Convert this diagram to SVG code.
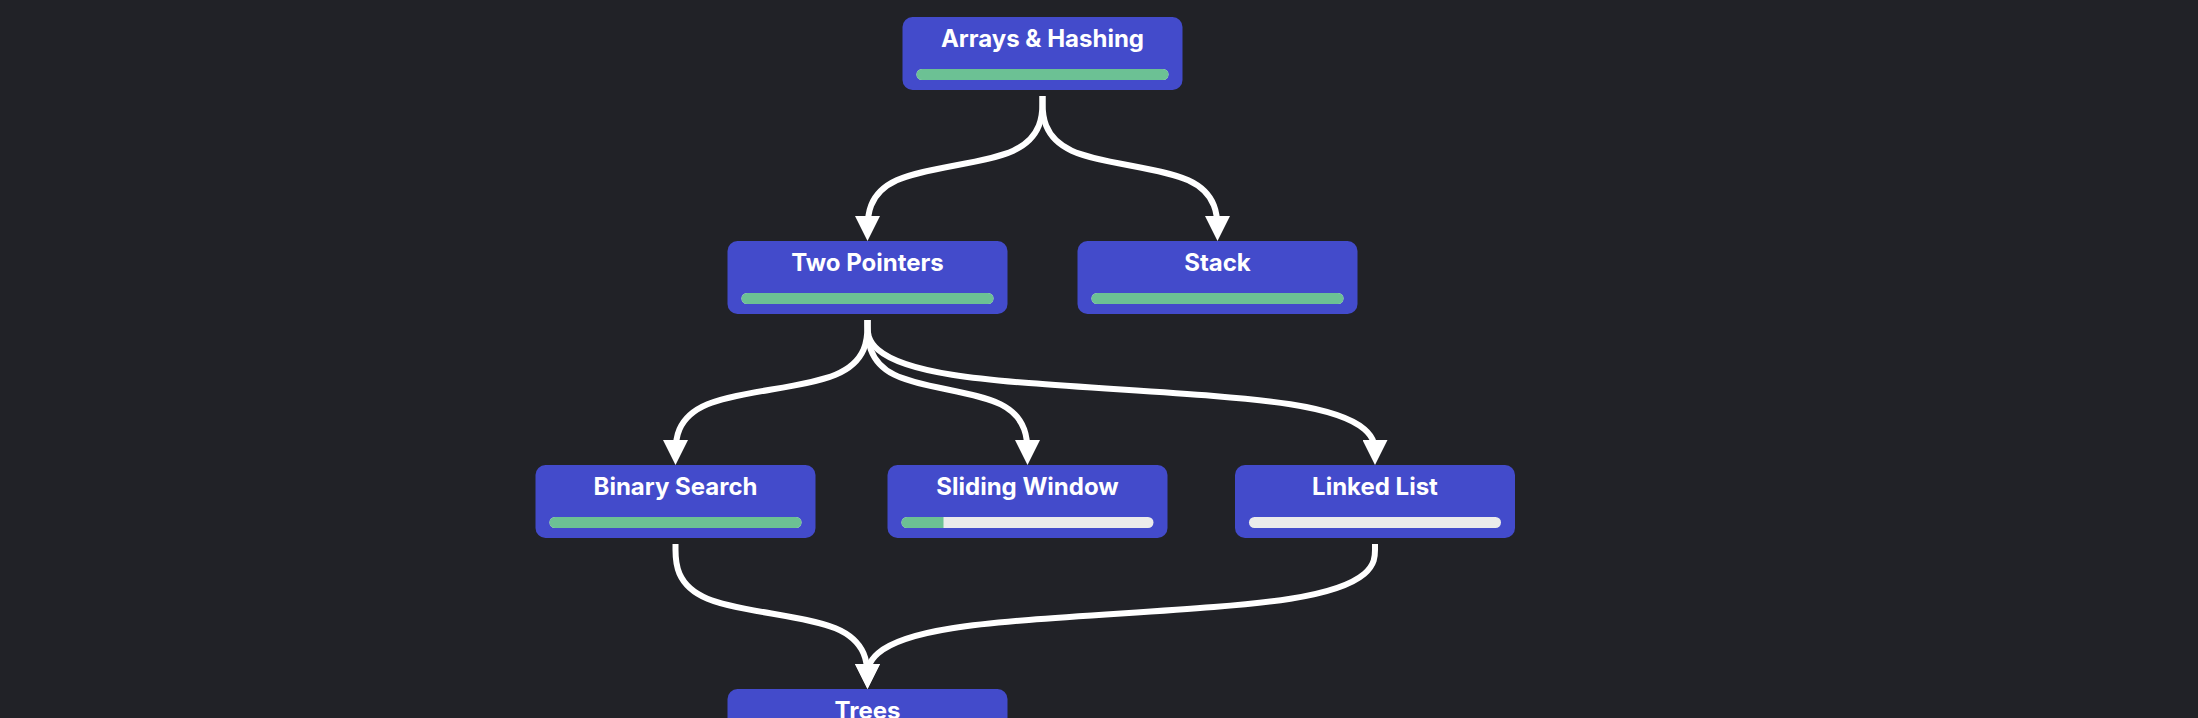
<svg xmlns="http://www.w3.org/2000/svg" width="2198" height="718" viewBox="0 0 2198 718">
<defs>
<style>
.node rect.box{fill:#434bcb;}
.title{font-family:Inter,"Noto Sans","Liberation Sans",sans-serif;font-size:24px;font-weight:700;fill:#ffffff;text-anchor:middle;}
.track{fill:#ebebeb;}
.fill{fill:#6cc194;}
.edge{fill:none;stroke:#ffffff;stroke-width:6;}
</style>
<marker id="arrow" viewBox="0 0 25 25" markerUnits="userSpaceOnUse" markerWidth="25" markerHeight="25" refX="13.17" refY="12.5" orient="auto">
<path d="M0,0 L25,12.5 L0,25 Z" fill="#ffffff"/>
</marker>
</defs>
<rect x="0" y="0" width="2198" height="718" fill="#212227"/>
<g id="connectors">
<path class="edge" marker-end="url(#arrow)" d="M1042.5,96 L1042.5,101.83 C1042.5,113.67 1042.5,137.33 1013.33,150.67 C984.17,164 925.83,167 896.67,180.33 C867.5,193.67 867.5,217.33 867.5,229.17"/>
<path class="edge" marker-end="url(#arrow)" d="M1042.5,96 L1042.5,101.83 C1042.5,113.67 1042.5,137.33 1071.67,150.67 C1100.83,164 1159.17,167 1188.33,180.33 C1217.5,193.67 1217.5,217.33 1217.5,229.17"/>
<path class="edge" marker-end="url(#arrow)" d="M867.5,320 L867.5,325.83 C867.5,337.67 867.5,361.33 835.5,374.67 C803.5,388 739.5,391 707.5,404.33 C675.5,417.67 675.5,441.33 675.5,453.17"/>
<path class="edge" marker-end="url(#arrow)" d="M867.5,320 L867.5,325.83 C867.5,337.67 867.5,361.33 894.17,374.67 C920.83,388 974.17,391 1000.83,404.33 C1027.5,417.67 1027.5,441.33 1027.5,453.17"/>
<path class="edge" marker-end="url(#arrow)" d="M867.5,320 L867.5,325.83 C867.5,337.67 867.5,361.33 952.08,374.67 C1036.67,388 1205.83,391 1290.42,404.33 C1375,417.67 1375,441.33 1375,453.17"/>
<path class="edge" marker-end="url(#arrow)" d="M675.5,544 L675.5,549.83 C675.5,561.67 675.5,585.33 707.5,598.67 C739.5,612 803.5,615 835.5,628.33 C867.5,641.67 867.5,665.33 867.5,677.17"/>
<path class="edge" marker-end="url(#arrow)" d="M1375,544 L1375,549.83 C1375,561.67 1375,585.33 1290.42,598.67 C1205.83,612 1036.67,615 952.08,628.33 C867.5,641.67 867.5,665.33 867.5,677.17"/>
</g>
<g id="node-arrays-hashing" class="node">
<rect class="box" x="902.5" y="17" width="280" height="73" rx="10"/>
<text class="title" x="1042.5" y="47">Arrays &amp; Hashing</text>
<rect class="track" x="916.5" y="69" width="252" height="11" rx="5.5"/>
<rect class="fill" x="916.5" y="69" width="252" height="11" rx="5.5"/>
</g>
<g id="node-two-pointers" class="node">
<rect class="box" x="727.5" y="241" width="280" height="73" rx="10"/>
<text class="title" x="867.5" y="271">Two Pointers</text>
<rect class="track" x="741.5" y="293" width="252" height="11" rx="5.5"/>
<rect class="fill" x="741.5" y="293" width="252" height="11" rx="5.5"/>
</g>
<g id="node-stack" class="node">
<rect class="box" x="1077.5" y="241" width="280" height="73" rx="10"/>
<text class="title" x="1217.5" y="271">Stack</text>
<rect class="track" x="1091.5" y="293" width="252" height="11" rx="5.5"/>
<rect class="fill" x="1091.5" y="293" width="252" height="11" rx="5.5"/>
</g>
<g id="node-binary-search" class="node">
<rect class="box" x="535.5" y="465" width="280" height="73" rx="10"/>
<text class="title" x="675.5" y="495">Binary Search</text>
<rect class="track" x="549.5" y="517" width="252" height="11" rx="5.5"/>
<rect class="fill" x="549.5" y="517" width="252" height="11" rx="5.5"/>
</g>
<g id="node-sliding-window" class="node">
<rect class="box" x="887.5" y="465" width="280" height="73" rx="10"/>
<text class="title" x="1027.5" y="495">Sliding Window</text>
<rect class="track" x="901.5" y="517" width="252" height="11" rx="5.5"/>
<path class="fill" d="M907,517 H943.5 V528 H907 A5.5,5.5 0 0 1 907,517 Z"/>
</g>
<g id="node-linked-list" class="node">
<rect class="box" x="1235" y="465" width="280" height="73" rx="10"/>
<text class="title" x="1375" y="495">Linked List</text>
<rect class="track" x="1249" y="517" width="252" height="11" rx="5.5"/>
</g>
<g id="node-trees" class="node">
<rect class="box" x="727.5" y="689" width="280" height="73" rx="10"/>
<text class="title" x="867.5" y="719">Trees</text>
</g>
</svg>
